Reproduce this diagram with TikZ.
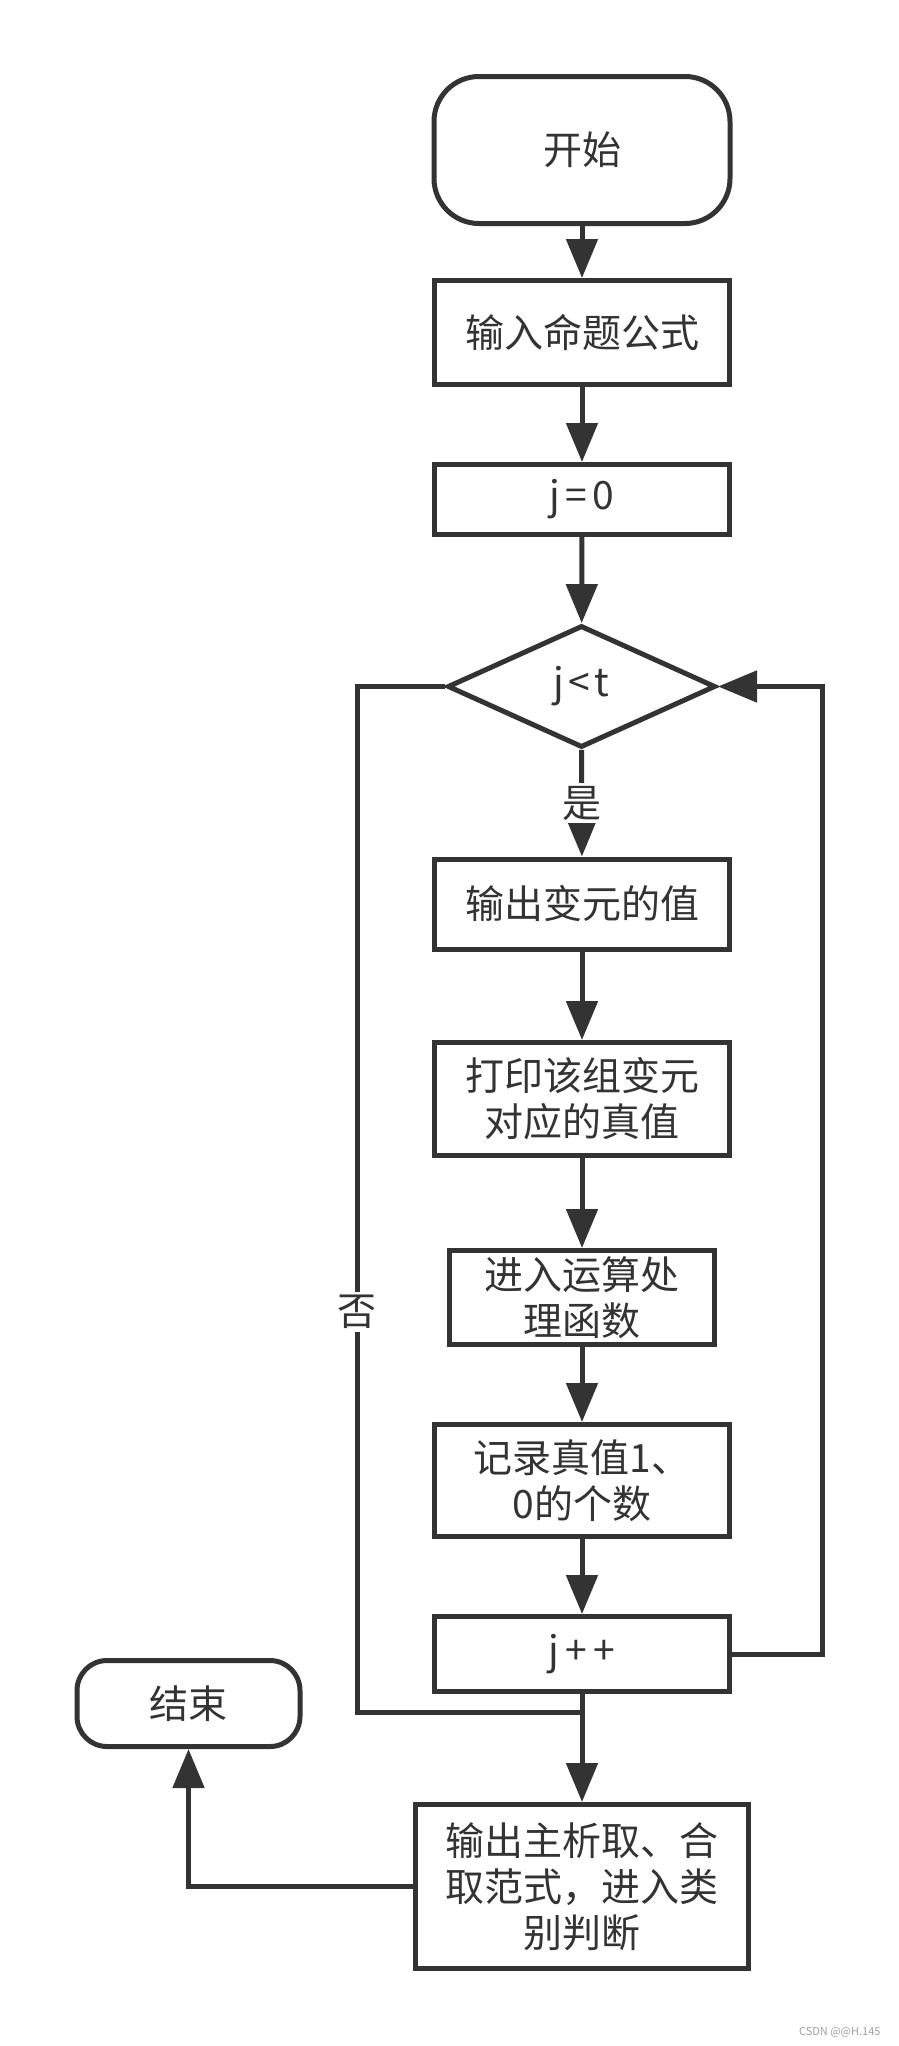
\documentclass[tikz,border=0pt]{standalone}
\usepackage{fontspec}
\setmainfont{Noto Sans CJK SC}
\usetikzlibrary{arrows.meta,shapes.geometric}
\definecolor{ink}{HTML}{333333}
\definecolor{mark}{HTML}{A0A0A0}
\begin{document}
\begin{tikzpicture}[x=1pt,y=-1pt,
  every node/.style={text=ink, font=\fontsize{39}{46}\selectfont},
  box/.style={draw=ink, line width=5pt, fill=white, inner sep=0pt, align=center},
  term/.style={box, rounded corners=#1},
  decision/.style={draw=ink, line width=5pt, fill=white, diamond, inner sep=0pt},
  conn/.style={draw=ink, line width=5pt},
  arr/.style={conn, -{Triangle[length=39pt,width=31pt]}},
  lbl/.style={fill=white, inner sep=3pt}]
\useasboundingbox (0,0) rectangle (898,2046);

% process steps
\node[term=45pt, minimum width=296pt, minimum height=147pt] (start) at (582,150) {开始};
\node[box, minimum width=295pt, minimum height=104pt] (input) at (582,332.5) {输入命题公式};
\node[box, minimum width=295pt, minimum height=70pt] (init) at (582,499.5) {j\kern5pt=\kern5pt0};
\node[decision, minimum width=268pt, minimum height=122pt] (cond) at (581.5,686.5) {j\kern4pt<\kern4pt t};
\node[box, minimum width=295pt, minimum height=90pt] (outv) at (582,904) {输出变元的值};
\node[box, minimum width=295pt, minimum height=113pt] (print) at (582,1099) {打印该组变元\\对应的真值};
\node[box, minimum width=265pt, minimum height=94pt] (calc) at (582,1297.5) {进入运算处\\理函数};
\node[box, minimum width=295pt, minimum height=112pt] (count) at (582,1480.5) {记录真值1、\\0的个数};
\node[box, minimum width=295pt, minimum height=75pt] (inc) at (582,1654) {j\kern6pt+\kern6pt+};
\node[box, minimum width=333pt, minimum height=164pt] (result) at (582,1886.5) {输出主析取、合\\取范式，进入类\\别判断};
\node[term=30pt, minimum width=223pt, minimum height=86pt] (stop) at (188.5,1703.5) {结束};

% routing points
\coordinate (noTop) at (357,686.5);
\coordinate (noBot) at (357,1712);
\coordinate (join) at (582,1712);
\coordinate (loop) at (822,1654);

% main flow
\draw[arr] (start) -- (input);
\draw[arr] (input) -- (init);
\draw[arr] (init) -- (cond);
\draw[arr] (cond) -- node[lbl] {是} (outv);
\draw[arr] (outv) -- (print);
\draw[arr] (print) -- (calc);
\draw[arr] (calc) -- (count);
\draw[arr] (count) -- (inc);

% loop back and exit
\draw[arr] (inc.east) -- (loop) |- (cond.east);
\draw[conn] (inc.south) -- (join);
\draw[arr] (cond.west) -- (noTop) -- node[lbl, pos=0.61] {否} (noBot) -- (join) -- (result);
\draw[arr] (result.west) -| (stop.south);

\node[text=mark, font=\fontsize{11}{13}\selectfont, anchor=east] (wm) at (884,2032) {CSDN @@H.145};
\end{tikzpicture}
\end{document}
